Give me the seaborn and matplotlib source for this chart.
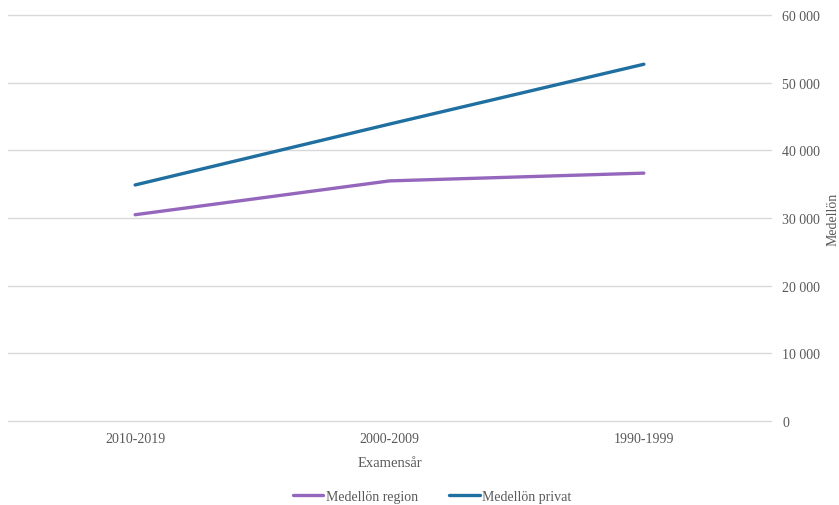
import matplotlib
matplotlib.use("Agg")
import matplotlib.pyplot as plt
import seaborn as sns
import pandas as pd

categories = ["2010-2019", "2000-2009", "1990-1999"]
region = [30500, 35500, 36650]
privat = [34900, 43900, 52750]
series_names = ["Medellön region", "Medellön privat"]
yticks = [0, 10000, 20000, 30000, 40000, 50000, 60000]

df = pd.DataFrame({
    "Examensår": categories * 2,
    "Medellön": region + privat,
    "serie": [series_names[0]] * 3 + [series_names[1]] * 3,
})

sns.set_theme(style="white")
plt.rcParams["font.family"] = ["Liberation Serif", "DejaVu Serif"]
txt = "#595959"

fig = plt.figure(figsize=(8.39, 5.06), dpi=100)
ax = fig.add_axes([0.0095, 0.166, 0.9095, 0.802])

sns.lineplot(data=df, x="Examensår", y="Medellön", hue="serie", sort=False,
             palette=["#9467bd", "#1f6fa0"], linewidth=2.4, ax=ax, legend=True)

ax.set_xlim(-0.5, 2.5)
ax.set_ylim(0, 60000)
ax.set_yticks(yticks)
ax.set_yticklabels([f"{v:,}".replace(",", " ") for v in yticks])
ax.yaxis.tick_right()
ax.yaxis.set_label_position("right")
ax.grid(axis="y", color="#d9d9d9", linewidth=1)
for gl in ax.get_ygridlines():
    gl.set_clip_on(False)
ax.set_axisbelow(True)
for s in ["left", "top", "right", "bottom"]:
    ax.spines[s].set_visible(False)
ax.tick_params(axis="both", length=0, colors=txt, labelsize=10)
ax.tick_params(axis="y", pad=8)
ax.tick_params(axis="x", pad=8)
ax.set_xlabel("Examensår", color=txt, fontsize=10.5, labelpad=8)
ax.set_ylabel("Medellön", color=txt, fontsize=10)
ax.yaxis.label.set_horizontalalignment("center")
ax.yaxis.label.set_verticalalignment("center")
ax.yaxis.set_label_coords(1.0815, 0.5)

ax.legend(loc="upper center", bbox_to_anchor=(0.556, -0.14), ncol=2, frameon=False,
          fontsize=10, labelcolor=txt, handlelength=2.2, handletextpad=0.2,
          columnspacing=2.2, title=None)

fig.savefig("out.png", dpi=100)
